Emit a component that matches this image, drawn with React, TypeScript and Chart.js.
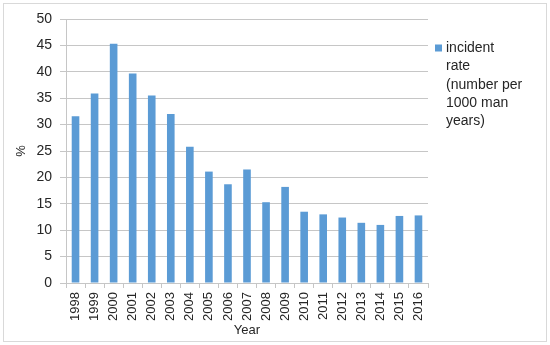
import React, { useEffect, useRef } from "react";
import { Chart, registerables } from "chart.js";

Chart.register(...registerables);

const years = ["1998","1999","2000","2001","2002","2003","2004","2005","2006","2007","2008","2009","2010","2011","2012","2013","2014","2015","2016"];
const incidentRate = [31.6, 35.9, 45.3, 39.7, 35.5, 32.0, 25.8, 21.1, 18.7, 21.5, 15.3, 18.2, 13.5, 13.0, 12.4, 11.4, 11.0, 12.7, 12.8];
const seriesLabel = "incident rate (number per 1000 man years)";
const legendLines = ["incident", "rate", "(number per", "1000 man", "years)"];

const FONT = "'Liberation Sans', Arial, sans-serif";
const BAR = "#5B9BD5";
const GRID = "#c6c6c6";
const TEXT = "#262626";

const framePlugin = {
  id: "frame",
  beforeDraw(chart: any) {
    const ctx = chart.ctx;
    ctx.save();
    ctx.fillStyle = "#ffffff";
    ctx.fillRect(0, 0, chart.width, chart.height);
    ctx.strokeStyle = "#d9d9d9";
    ctx.lineWidth = 1;
    ctx.strokeRect(3.5, 3.5, chart.width - 7, chart.height - 7);
    ctx.restore();
  },
};

const legendPlugin = {
  id: "wrapLegend",
  afterDraw(chart: any) {
    const ctx = chart.ctx;
    const ds = chart.data.datasets[0];
    const x0 = chart.chartArea.right + 7;
    const y0 = 48;
    ctx.save();
    ctx.fillStyle = ds.backgroundColor;
    ctx.fillRect(x0, y0 - 3.5, 7, 7);
    ctx.fillStyle = TEXT;
    ctx.font = `14px ${FONT}`;
    ctx.textBaseline = "middle";
    ctx.textAlign = "left";
    legendLines.forEach((l, i) => {
      ctx.fillText(l, x0 + 11, y0 + i * 18.4);
    });
    ctx.restore();
  },
};

export default function App() {
  const ref = useRef<HTMLCanvasElement>(null);
  useEffect(() => {
    if (!ref.current) return;
    const chart = new Chart(ref.current, {
      type: "bar",
      data: {
        labels: years,
        datasets: [
          {
            label: seriesLabel,
            data: incidentRate,
            backgroundColor: BAR,
            barPercentage: 0.4,
            categoryPercentage: 1,
          },
        ],
      },
      options: {
        responsive: false,
        animation: false,
        layout: { padding: { top: 19, right: 122, left: 0, bottom: 0 } },
        plugins: { legend: { display: false }, tooltip: { enabled: false } },
        scales: {
          x: {
            grid: { drawOnChartArea: false, drawTicks: true, tickLength: 5, color: GRID },
            border: { display: true, color: GRID },
            ticks: {
              autoSkip: false,
              maxRotation: 90,
              minRotation: 90,
              padding: 4,
              color: TEXT,
              font: { family: FONT, size: 13 },
            },
            title: {
              display: true,
              text: "Year",
              color: TEXT,
              font: { family: FONT, size: 13 },
              padding: { top: 0, bottom: 7 },
            },
            afterFit(scale: any) {
              scale.height = 62;
            },
          },
          y: {
            min: 0,
            max: 50,
            ticks: {
              stepSize: 5,
              padding: 8,
              color: TEXT,
              font: { family: FONT, size: 14 },
            },
            grid: { color: GRID, tickLength: 6 },
            border: { display: true, color: GRID },
            title: {
              display: true,
              text: "%",
              color: TEXT,
              font: { family: FONT, size: 13 },
              padding: { top: 14, bottom: 0 },
            },
            afterFit(scale: any) {
              scale.width = 66;
            },
          },
        },
      },
      plugins: [framePlugin, legendPlugin],
    });
    return () => chart.destroy();
  }, []);
  return (
    <div style={{ position: "fixed", left: 0, top: 0, width: 550, height: 345 }}>
      <canvas ref={ref} width={550} height={345} />
    </div>
  );
}
